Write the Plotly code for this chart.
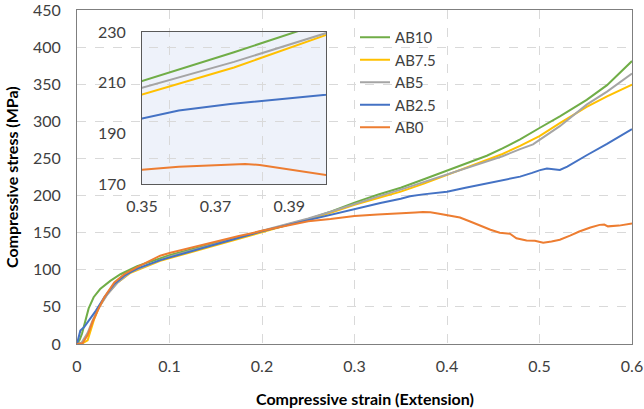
import plotly.graph_objects as go

# ---------------- data ----------------
ab10_strain = [0, 0.003, 0.0054, 0.009, 0.0126, 0.018, 0.025, 0.036, 0.047, 0.065, 0.09, 0.1,
               0.125, 0.15, 0.175, 0.2, 0.225, 0.25, 0.275, 0.3, 0.325, 0.35, 0.375, 0.3925,
               0.40, 0.42, 0.443, 0.46, 0.479, 0.50, 0.522, 0.551, 0.573, 0.6]
ab10_stress = [0, 6, 14, 32, 48, 63, 74, 85, 94, 105, 116, 119.5,
               128, 135.5, 144, 152, 160, 168, 178.5, 190.5, 201, 210.6, 222, 230.4,
               234, 243.5, 253.6, 263.5, 275.7, 291, 306.8, 328.9, 348.8, 381.3]

ab75_strain = [0, 0.006, 0.0115, 0.0151, 0.0187, 0.024, 0.033, 0.044, 0.058, 0.09, 0.1,
               0.125, 0.15, 0.175, 0.2, 0.225, 0.25, 0.275, 0.3, 0.325, 0.35, 0.375, 0.40,
               0.42, 0.443, 0.46, 0.479, 0.50, 0.522, 0.551, 0.573, 0.6]
ab75_stress = [0, 1, 5, 18, 34, 50, 68, 83, 96, 112, 115.5,
               124.5, 133, 142, 151, 159, 167.5, 177, 187.5, 196.5, 205.3, 216, 227.6,
               237, 247.5, 256, 267, 280, 297.5, 319.5, 333.5, 349.5]

ab5_strain = [0, 0.005, 0.0115, 0.017, 0.024, 0.033, 0.044, 0.058, 0.09, 0.1,
              0.125, 0.15, 0.175, 0.2, 0.225, 0.25, 0.275, 0.3, 0.325, 0.35, 0.375, 0.40,
              0.42, 0.443, 0.46, 0.479, 0.493, 0.50, 0.522, 0.551, 0.573, 0.6]
ab5_stress = [0, 2, 15, 32, 50, 67, 83, 97, 113, 117.5,
              126.5, 134.5, 143.5, 152.5, 160.5, 169, 178.5, 189, 198.5, 208, 218.2, 228.7,
              236.5, 245.5, 253, 262.5, 269, 275, 293.5, 322.5, 340, 364.5]

ab25_strain = [0, 0.0036, 0.0079, 0.0133, 0.0205, 0.0295, 0.0403, 0.051, 0.0655, 0.09, 0.1,
               0.125, 0.15, 0.175, 0.2, 0.225, 0.25, 0.274, 0.3, 0.317, 0.328, 0.35, 0.36,
               0.374, 0.3875, 0.40, 0.42, 0.443, 0.46, 0.479, 0.492, 0.5007, 0.508, 0.515,
               0.522, 0.530, 0.54, 0.551, 0.573, 0.6]
ab25_stress = [0, 18, 23, 32, 45, 63, 81, 92, 102, 113, 116.5,
               126, 135, 143.5, 152, 159.5, 167, 174.5, 182, 186.5, 190, 195.8, 199,
               201.6, 203.6, 205.2, 210.5, 216.5, 220.5, 225.5, 230.5, 234.3, 236.3, 235.5,
               234.5, 239, 246.5, 254.3, 269.5, 289.5]

ab0_strain = [0, 0.006, 0.0115, 0.0169, 0.0223, 0.0295, 0.0403, 0.051, 0.0655, 0.09, 0.1,
              0.125, 0.15, 0.175, 0.2, 0.225, 0.25, 0.274, 0.30, 0.325, 0.35, 0.36, 0.366,
              0.374, 0.378, 0.382, 0.39, 0.40, 0.414, 0.425, 0.436, 0.447, 0.457, 0.468,
              0.475, 0.486, 0.495, 0.504, 0.513, 0.522, 0.533, 0.543, 0.555, 0.565, 0.57,
              0.574, 0.586, 0.6]
ab0_stress = [0, 1, 12, 30, 45, 63, 83, 94, 104, 119, 122.5,
              130.5, 138, 145.5, 152.5, 159.5, 165.5, 168.5, 172.5, 174.5, 175.6, 176.8, 177.2,
              177.7, 177.9, 177.5, 175.9, 173.9, 170.5, 165, 159, 154, 150, 148.5,
              142.5, 139.5, 139, 136.5, 138, 140.5, 146, 151.5, 157, 160.5, 161,
              158.5, 159.5, 162.5]

series_names = ["AB10", "AB7.5", "AB5", "AB2.5", "AB0"]
series_colors = ["#70AD47", "#FFC000", "#A5A5A5", "#4472C4", "#ED7D31"]
series_strain = [ab10_strain, ab75_strain, ab5_strain, ab25_strain, ab0_strain]
series_stress = [ab10_stress, ab75_stress, ab5_stress, ab25_stress, ab0_stress]

x_ticks = [0, 0.1, 0.2, 0.3, 0.4, 0.5, 0.6]
y_ticks = [0, 50, 100, 150, 200, 250, 300, 350, 400, 450]
inset_x_ticks = [0.35, 0.37, 0.39]
inset_y_ticks = [170, 190, 210, 230]

# ---------------- figure ----------------
FONT = "Lato"
TICK_COLOR = "#404040"

fig = go.Figure()
for name, xs, ys, col in zip(series_names, series_strain, series_stress, series_colors):
    fig.add_trace(go.Scatter(x=xs, y=ys, mode="lines", name=name,
                             line=dict(color=col, width=2), xaxis="x", yaxis="y"))
for name, xs, ys, col in zip(series_names, series_strain, series_stress, series_colors):
    fig.add_trace(go.Scatter(x=xs, y=ys, mode="lines", name=name, showlegend=False,
                             line=dict(color=col, width=2), xaxis="x2", yaxis="y2"))

L, R, T, B = 77, 12, 10, 65
W, H = 644, 409
pw, ph = W - L - R, H - T - B

def px_x(p):
    return (p - L) / pw

def px_y(p):
    return (H - B - p) / ph

ix0, ix1 = px_x(142), px_x(326)
iy0, iy1 = px_y(184), px_y(32)

axis_common = dict(showline=True, mirror=True, linecolor="#7f7f7f", linewidth=1,
                   zeroline=False, ticks="", automargin=False, ticklabeloverflow="allow",
                   tickfont=dict(family=FONT, size=16, color=TICK_COLOR))

fig.update_layout(
    width=W, height=H,
    margin=dict(l=L, r=R, t=T, b=B, autoexpand=False),
    paper_bgcolor="white",
    plot_bgcolor="rgba(0,0,0,0)",
    font=dict(family=FONT, color=TICK_COLOR),
    xaxis=dict(range=[0, 0.6], tickvals=x_ticks, showgrid=True, gridcolor="#d9d9d9",
               griddash="dash", gridwidth=1, ticklabelstandoff=8, **axis_common),
    yaxis=dict(range=[0, 450], tickvals=y_ticks, showgrid=True, gridcolor="#d9d9d9",
               griddash="dash", gridwidth=1, ticklabelstandoff=12, **axis_common),
    xaxis2=dict(domain=[ix0, ix1], anchor="y2", range=[0.35, 0.40], tickvals=inset_x_ticks,
                showgrid=False, ticklabelstandoff=8,
                **{**axis_common, "linecolor": "#595959"}),
    yaxis2=dict(domain=[iy0, iy1], anchor="x2", range=[170, 230], tickvals=inset_y_ticks,
                showgrid=False, ticklabelstandoff=12,
                **{**axis_common, "linecolor": "#595959"}),
    legend=dict(x=px_x(355), y=px_y(21), xanchor="left", yanchor="top",
                bgcolor="rgba(0,0,0,0)", font=dict(family=FONT, size=15, color=TICK_COLOR),
                itemwidth=30),
    showlegend=True,
    shapes=[dict(type="rect", xref="paper", yref="paper", x0=ix0, x1=ix1, y0=iy0, y1=iy1,
                 fillcolor="#EEF2FA", line=dict(width=0), layer="below")],
    annotations=[
        dict(text="<b>Compressive strain (Extension)</b>", xref="paper", yref="paper",
             x=px_x(365), y=px_y(398), xanchor="center", yanchor="middle", showarrow=False,
             font=dict(family=FONT, size=16, color="#000000")),
        dict(text="<b>Compressive stress (MPa)</b>", xref="paper", yref="paper",
             x=px_x(11), y=0.5, xanchor="center", yanchor="middle", showarrow=False,
             textangle=-90, font=dict(family=FONT, size=16, color="#000000")),
    ],
)

fig.write_html("out.html", config={"displayModeBar": False},
               post_script="document.body.style.margin='0';"
                           "document.body.style.overflow='hidden';")
